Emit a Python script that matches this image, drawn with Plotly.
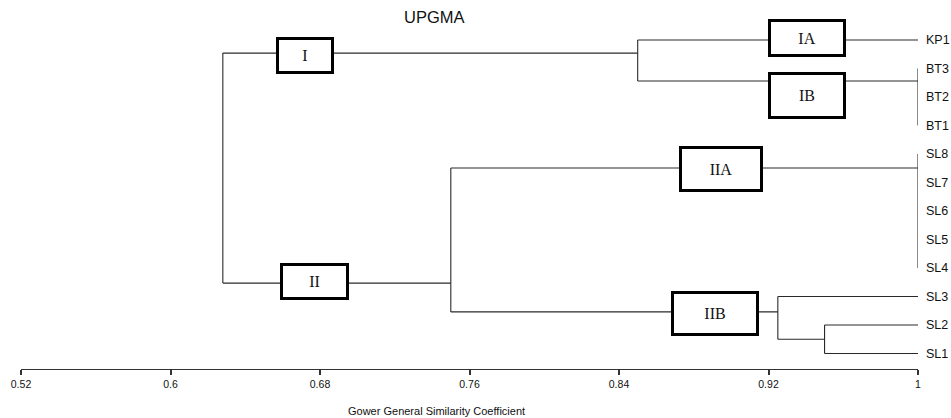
import plotly.graph_objects as go

# ---------------- data ----------------
leaf_names = ["KP1", "BT3", "BT2", "BT1", "SL8", "SL7", "SL6", "SL5", "SL4", "SL3", "SL2", "SL1"]

# internal nodes (UPGMA merges) and their similarity levels
node_names = ["root", "I", "II", "IIB", "SL1-SL2", "BT", "SL4-SL8"]
node_heights = [0.628, 0.85, 0.75, 0.925, 0.95, 1.0, 1.0]
node_children = [
    ["I", "II"],
    ["KP1", "BT"],
    ["SL4-SL8", "IIB"],
    ["SL3", "SL1-SL2"],
    ["SL2", "SL1"],
    ["BT3", "BT2", "BT1"],
    ["SL8", "SL7", "SL6", "SL5", "SL4"],
]

cluster_labels = ["I", "IA", "IB", "II", "IIA", "IIB"]

tick_vals = [0.52, 0.6, 0.68, 0.76, 0.84, 0.92, 1.0]
tick_text = ["0.52", "0.6", "0.68", "0.76", "0.84", "0.92", "1"]

# ---------------- layout helpers (positions) ----------------
leaf_y = {n: i for i, n in enumerate(leaf_names)}
node_y = {"root": 4.5, "I": 0.46, "II": 8.53, "IIB": 9.54,
          "SL1-SL2": 10.5, "BT": 1.44, "SL4-SL8": 4.49}
# box positions (x in similarity units, y in leaf-row units) and pixel sizes
box_pos = {
    "I":   (0.6722, 0.53, 58, 37),
    "IA":  (0.9406, -0.06, 78, 38),
    "IB":  (0.9406, 1.95, 78, 47),
    "II":  (0.6773, 8.48, 69, 37),
    "IIA": (0.8945, 4.54, 84, 46),
    "IIB": (0.8914, 9.59, 88, 45),
}

height_of = dict(zip(node_names, node_heights))
children_of = dict(zip(node_names, node_children))


def y_of(n):
    return leaf_y[n] if n in leaf_y else node_y[n]


def h_of(n):
    return height_of.get(n, 1.0)


xs, ys = [], []
for n in node_names:
    h = height_of[n]
    cy = [y_of(c) for c in children_of[n]]
    xs += [h, h, None]
    ys += [min(cy), max(cy), None]
    for c in children_of[n]:
        if h_of(c) > h:
            xs += [h, h_of(c), None]
            ys += [y_of(c), y_of(c), None]

fig = go.Figure()
fig.add_trace(go.Scatter(x=xs, y=ys, mode="lines",
                         line=dict(color="#2a2a2a", width=1.1),
                         hoverinfo="skip", showlegend=False, cliponaxis=False))

SANS = "Liberation Sans, Arial, sans-serif"

# leaf labels
for n in leaf_names:
    fig.add_annotation(x=1.0, y=leaf_y[n], xref="x", yref="y", text=n,
                       showarrow=False, xanchor="left", yanchor="middle", xshift=6,
                       font=dict(family=SANS, size=12.5, color="#111"))

# cluster boxes
bw = 3
for lab in cluster_labels:
    x, y, w, h = box_pos[lab]
    fig.add_annotation(x=x, y=y, xref="x", yref="y", text=lab, showarrow=False,
                       xanchor="center", yanchor="middle",
                       width=w - 2 * bw, height=h - 2 * bw,
                       borderwidth=bw, borderpad=0, bordercolor="#000", bgcolor="#fff",
                       font=dict(family="Liberation Serif, Times New Roman, serif", size=16, color="#111"))

# title
fig.add_annotation(x=0.4615, y=0.9805, xref="paper", yref="paper", text="UPGMA",
                   showarrow=False, xanchor="center", yanchor="middle",
                   font=dict(family=SANS, size=16.5, color="#111"))
# axis title
fig.add_annotation(x=0.4627, y=-0.117, xref="paper", yref="paper",
                   text="Gower General Similarity Coefficient",
                   showarrow=False, xanchor="center", yanchor="middle",
                   font=dict(family=SANS, size=11, color="#111"))

fig.update_layout(
    width=951, height=418,
    margin=dict(l=21, r=33, t=10, b=49),
    paper_bgcolor="white", plot_bgcolor="white",
    xaxis=dict(range=[0.52, 1.0], tickvals=tick_vals, ticktext=tick_text,
               showgrid=False, zeroline=False, showline=True, linecolor="#333",
               linewidth=1.2, ticks="outside", ticklen=5, tickwidth=1.5, tickcolor="#333",
               tickfont=dict(family=SANS, size=10.5, color="#111")),
    yaxis=dict(range=[11.544, -1.053], visible=False, showgrid=False, zeroline=False),
)

# remove the default page margin so the 951x418 figure fills the window exactly
fig.write_html("out.html",
               config={"displayModeBar": False},
               post_script="document.body.style.margin='0';document.body.style.overflow='hidden';")
